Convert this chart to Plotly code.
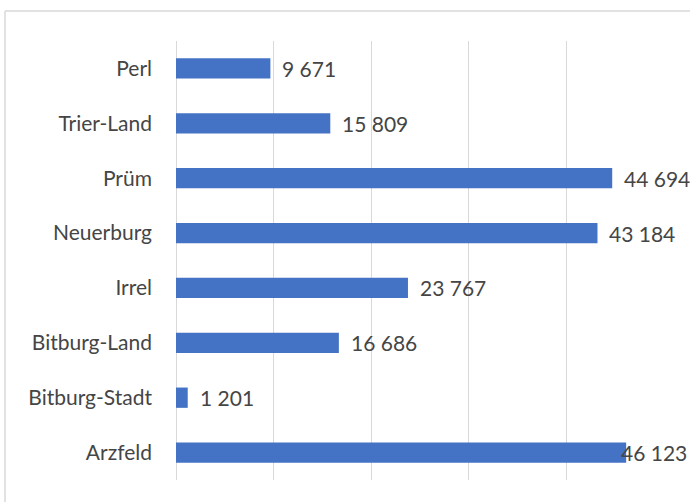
import plotly.graph_objects as go

categories = ["Arzfeld", "Bitburg-Stadt", "Bitburg-Land", "Irrel", "Neuerburg", "Prüm", "Trier-Land", "Perl"]
values = [46123, 1201, 16686, 23767, 43184, 44694, 15809, 9671]

FONT = "Lato, 'Open Sans', sans-serif"
FS = 21
W, H = 690, 502
ml, mr, mt, mb = 176, 26, 41, 22
pw, ph = W - ml - mr, H - mt - mb

fig = go.Figure(go.Bar(
    y=categories, x=values, orientation="h",
    marker=dict(color="#4472C4", line=dict(width=0)),
    width=0.37,
))

def fmt(v):
    return f"{v:,}".replace(",", " ")

for c, v in zip(categories, values):
    shift = -7 if c == "Arzfeld" else 10
    fig.add_annotation(x=v, y=c, text=fmt(v), showarrow=False, xanchor="left",
                       xshift=shift, font=dict(family=FONT, size=FS, color="#454545"))

# chart frame (left and top edges visible)
fx = (5 - ml) / pw
fy = 1 + (mt - 11) / ph
fig.add_shape(type="line", xref="paper", yref="paper", x0=fx, x1=fx, y0=-1, y1=fy,
              line=dict(color="#d9d9d9", width=1.5))
fig.add_shape(type="line", xref="paper", yref="paper", x0=fx, x1=2, y0=fy, y1=fy,
              line=dict(color="#d9d9d9", width=1.5))

fig.update_layout(
    width=W, height=H,
    margin=dict(l=ml, r=mr, t=mt, b=mb),
    paper_bgcolor="white", plot_bgcolor="white",
    showlegend=False,
    xaxis=dict(range=[0, 50000], dtick=10000, showgrid=True, gridcolor="#d9d9d9", gridwidth=1.3,
               showticklabels=False, zeroline=True, zerolinecolor="#d9d9d9", zerolinewidth=1.3,
               showline=False, fixedrange=True),
    yaxis=dict(categoryorder="array", categoryarray=categories, showgrid=False,
               tickfont=dict(family=FONT, size=FS, color="#454545"),
               ticks="", ticklabelstandoff=23, showline=False),
)

fig.write_html("out.html", config={"displayModeBar": False},
               post_script="document.body.style.margin='0';document.body.style.overflow='hidden';")
